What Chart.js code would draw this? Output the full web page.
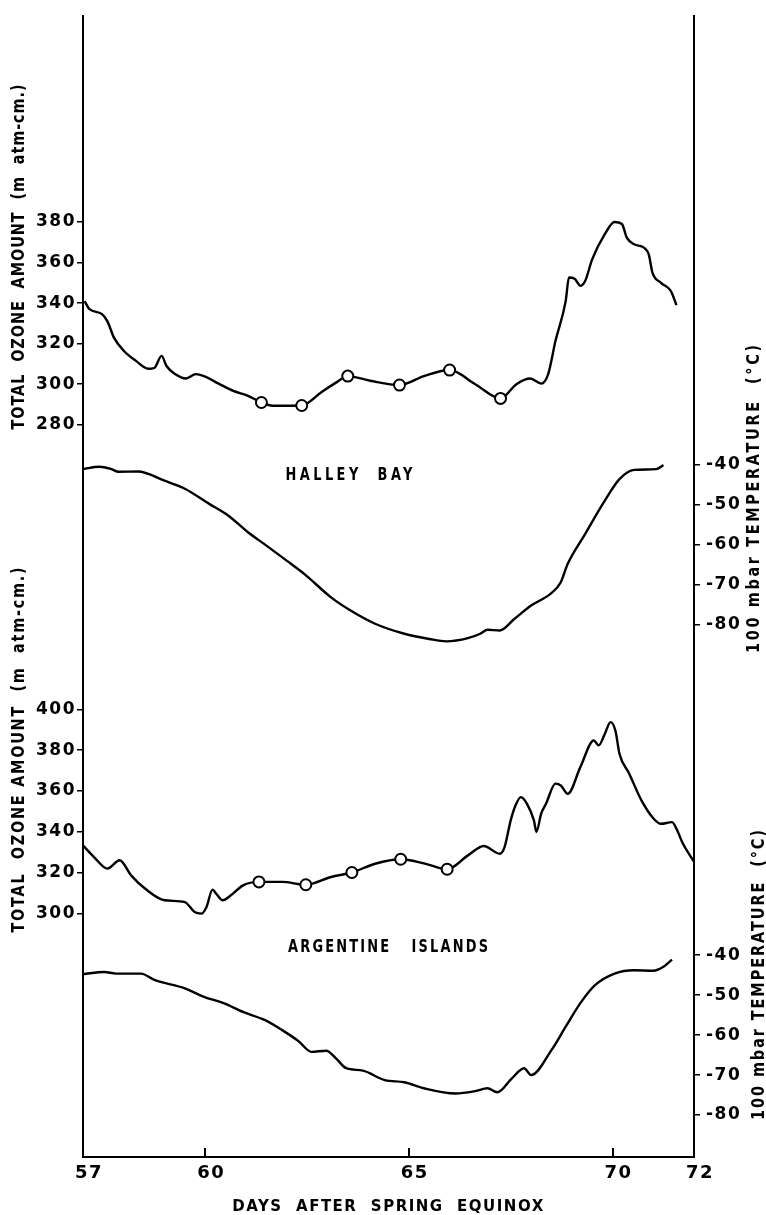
<!DOCTYPE html>
<html>
<head>
<meta charset="utf-8">
<script src="https://cdn.jsdelivr.net/npm/chart.js@4/dist/chart.umd.min.js"></script>
<style>
html,body{margin:0;padding:0;background:#fff;}
#wrap{width:766px;height:1215px;position:relative;}
</style>
</head>
<body>
<div id="wrap"><canvas id="c" width="766" height="1215"></canvas></div>
<script>
// ---- tick labels ----
const dayTicks = [57, 60, 65, 70, 72];
const innerDayTicks = [60, 65, 70];
const halleyOzoneTicks = [280, 300, 320, 340, 360, 380];
const argentineOzoneTicks = [300, 320, 340, 360, 380, 400];
const temperatureTicks = [-40, -50, -60, -70, -80];

// ---- Halley Bay total ozone ----
const halleyOzoneDays = [57.04,57.16,57.46,57.6,57.76,58.0,58.3,58.6,58.75,58.93,59.05,59.26,59.53,59.77,59.97,60.33,60.69,61.05,61.38,61.65,62.37,62.85,63.21,63.5,64.05,64.77,65.37,66.0,66.63,67.25,67.64,67.98,68.25,68.42,68.6,68.85,68.93,69.07,69.21,69.33,69.5,69.81,70.05,70.23,70.35,70.53,70.77,70.89,70.98,71.19,71.43,71.57];
const halleyOzone = [341,337,334.7,331,323,316.5,311.5,307.6,308,314,309,305,302.8,305,304,300.3,296.7,294.3,291,289.4,289.5,296,300.8,304,301.7,299.6,304,307,300,293,300,302.8,300.3,305,321.4,341,352.6,352,348.5,351,361.6,374,380,379,372.3,369,367.4,364,355,350,346,339];
const halleyCircleDays = [61.38,62.37,63.5,64.77,66.0,67.25];
const halleyCircleOzone = [291,289.5,304,299.6,307,293];

// ---- Halley Bay 100 mbar temperature ----
const halleyTempDays = [57.0,57.4,57.7,57.87,58.35,59.0,59.5,60.1,60.57,61.05,61.47,62.0,62.43,63.09,63.57,64.17,64.89,65.5,65.92,66.45,66.75,66.93,67.23,67.59,68.0,68.49,68.73,68.9,69.33,69.81,70.17,70.53,71.07,71.25];
const halleyTemp = [-41.1,-40.5,-41.1,-41.75,-41.7,-44,-46,-49.8,-52.75,-56.9,-60,-64,-67.3,-73.2,-76.5,-79.8,-82.3,-83.6,-84.2,-83.4,-82.3,-81.3,-81.5,-78.6,-75.25,-72.2,-69.4,-64.8,-57.3,-49,-43.6,-41.3,-41.1,-40.1];

// ---- Argentine Islands total ozone ----
const argOzoneDays = [57.0,57.27,57.6,57.9,58.18,58.53,59.0,59.5,59.74,59.9,60.03,60.18,60.27,60.43,60.63,60.93,61.32,61.89,62.47,63.09,63.6,64.17,64.8,65.37,65.94,66.45,66.84,67.23,67.35,67.5,67.62,67.75,67.9,68.07,68.13,68.25,68.37,68.6,68.73,68.9,69.21,69.54,69.66,69.81,69.95,70.07,70.17,70.41,70.71,71.01,71.19,71.46,71.55,71.73,71.99];
const argOzone = [333.3,327.6,321.9,326,318.6,312,306.4,305.5,300.6,299.8,303,311.6,309.6,306.4,308.8,313.7,315.4,315.4,314,317.8,320,324.3,326.5,324.5,321.6,328.4,333,329.2,332.5,345.6,353,357,353.7,345.6,339.9,349,353.9,363.6,362.7,358.6,371.7,384.8,382.4,388,393.8,389.7,378.3,368.5,355.4,346.4,343.9,344.7,342.3,334.1,325.6];
const argCircleDays = [61.32,62.47,63.6,64.8,65.94];
const argCircleOzone = [315.4,314,320,326.5,321.6];

// ---- Argentine Islands 100 mbar temperature ----
const argTempDays = [57.0,57.52,57.81,58.42,58.77,59.5,59.97,60.45,60.93,61.47,61.89,62.29,62.61,62.97,63.21,63.45,63.87,64.41,64.89,65.37,66.15,66.63,66.93,67.17,67.53,67.83,68.0,68.5,68.85,69.21,69.57,70.05,70.53,71.0,71.25,71.46];
const argTemp = [-44.75,-44.2,-44.6,-44.6,-46.25,-48.3,-50.4,-52,-54.2,-56.25,-58.75,-61.5,-64.2,-63.9,-65.8,-68.2,-68.9,-71.25,-71.8,-73.3,-74.6,-74,-73.3,-74.3,-70.8,-68.3,-70,-63.75,-57.9,-52,-47.5,-44.6,-43.75,-43.9,-42.9,-41.1];

// ---- texts ----
const xTitle = 'DAYS  AFTER  SPRING  EQUINOX';
const ozoneTitle = 'TOTAL  OZONE  AMOUNT  (m  atm-cm.)';
const ozoneTitle2 = 'TOTAL  OZONE AMOUNT  (m  atm-cm.)';
const tempTitle = '100 mbar TEMPERATURE  (°C)';
const panelNames = ['HALLEY  BAY', 'ARGENTINE   ISLANDS'];

const pts = (xs, ys) => xs.map((x, i) => ({x: x, y: ys[i]}));
const BLACK = '#000';
const tickFont = {family: "'DejaVu Sans', sans-serif", size: 17, weight: 'bold'};

function fitText(ctx, text, cx, cy, width, font, rot, sx) {
  ctx.save();
  ctx.font = font;
  ctx.letterSpacing = '0px';
  ctx.translate(cx, cy);
  ctx.rotate(rot);
  ctx.scale(sx, 1);
  const w0 = ctx.measureText(text).width;
  const n = Array.from(text).length;
  const target = width / sx;
  const ls = (target - w0) / (n - 1);
  ctx.letterSpacing = ls + 'px';
  ctx.textAlign = 'left';
  ctx.textBaseline = 'middle';
  ctx.fillStyle = BLACK;
  ctx.fillText(text, -target / 2, 0);
  ctx.restore();
}

const decor = {
  id: 'decor',
  beforeDraw(chart) {
    chart.ctx.letterSpacing = '1.5px';
  },
  afterDraw(chart) {
    const ctx = chart.ctx;
    const xs = chart.scales.x;
    const bottom = chart.chartArea.bottom;
    ctx.save();
    ctx.letterSpacing = '0px';
    ctx.strokeStyle = BLACK;
    ctx.lineWidth = 2;
    innerDayTicks.forEach(v => {
      const px = Math.round(xs.getPixelForValue(v));
      ctx.beginPath();
      ctx.moveTo(px, bottom);
      ctx.lineTo(px, bottom - 9);
      ctx.stroke();
    });
    ctx.restore();
    const f = "bold 17px 'DejaVu Sans', sans-serif";
    fitText(ctx, ozoneTitle, 20, 257, 345, f, -Math.PI / 2, 0.85);
    fitText(ctx, ozoneTitle2, 20, 750, 365, f, -Math.PI / 2, 0.85);
    fitText(ctx, tempTitle, 755, 499, 308, f, -Math.PI / 2, 0.85);
    fitText(ctx, tempTitle, 760, 975, 290, f, -Math.PI / 2, 0.85);
    const fl = "bold 18px 'DejaVu Sans', sans-serif";
    fitText(ctx, panelNames[0], 349, 475, 127, fl, 0, 0.72);
    fitText(ctx, panelNames[1], 388, 947, 200, fl, 0, 0.72);
  }
};

// stacked axes: each panel's axis owns part of the chart height
function yAxis(pos, stack, stackWeight, min, max, ticks, width, pad) {
  return {
    type: 'linear', position: pos, stack: stack, stackWeight: stackWeight, min: min, max: max,
    afterBuildTicks: s => { s.ticks = ticks.map(v => ({value: v})); },
    afterFit: s => { s.width = width; },
    grid: {drawOnChartArea: false, color: BLACK, lineWidth: 1.5, tickLength: 6},
    border: {display: true, color: BLACK, width: 2},
    ticks: {color: BLACK, font: tickFont, padding: pad, autoSkip: false, callback: v => String(v)}
  };
}

const lineDs = (data, axis) => ({
  data: data, yAxisID: axis, borderColor: BLACK, borderWidth: 2.4,
  pointRadius: 0, fill: false, cubicInterpolationMode: 'monotone', order: 1
});
const circleDs = (data, axis) => ({
  data: data, yAxisID: axis, showLine: false, pointRadius: 5.5,
  pointBackgroundColor: '#fff', pointBorderColor: BLACK, pointBorderWidth: 2, order: 0
});

new Chart(document.getElementById('c'), {
  type: 'line',
  data: {
    datasets: [
      circleDs(pts(halleyCircleDays, halleyCircleOzone), 'yH'),
      circleDs(pts(argCircleDays, argCircleOzone), 'yA'),
      lineDs(pts(halleyOzoneDays, halleyOzone), 'yH'),
      lineDs(pts(halleyTempDays, halleyTemp), 'tH'),
      lineDs(pts(argOzoneDays, argOzone), 'yA'),
      lineDs(pts(argTempDays, argTemp), 'tA')
    ]
  },
  options: {
    responsive: false,
    animation: false,
    devicePixelRatio: 1,
    layout: {padding: {top: 15, left: 0, right: 0, bottom: 0}},
    plugins: {legend: {display: false}, tooltip: {enabled: false}},
    scales: {
      x: {
        type: 'linear', position: 'bottom', min: 57, max: 72,
        afterBuildTicks: s => { s.ticks = dayTicks.map(v => ({value: v})); },
        afterFit: s => { s.height = 58; },
        grid: {drawOnChartArea: false, drawTicks: false},
        border: {display: true, color: BLACK, width: 2},
        ticks: {color: BLACK, font: {family: "'DejaVu Sans', sans-serif", size: 18, weight: 'bold'},
                padding: 6, labelOffset: 6, autoSkip: false, maxRotation: 0, callback: v => String(v)},
        title: {display: true, text: xTitle, color: BLACK,
                font: {family: "'DejaVu Sans', sans-serif", size: 15, weight: 'bold', lineHeight: 1.0},
                padding: {top: 0, bottom: 0}}
      },
      yH: Object.assign(yAxis('left', 'L', 645, 163.74, 481.5, halleyOzoneTicks, 83, 1), {weight: 1}),
      yA: Object.assign(yAxis('left', 'L', 497, 180.4, 424.02, argentineOzoneTicks, 83, 1), {weight: 0}),
      tH: Object.assign(yAxis('right', 'R', 685, -99, 72.25, temperatureTicks, 72, 6), {weight: 0}),
      tA: Object.assign(yAxis('right', 'R', 457, -90.5, 23.75, temperatureTicks, 72, 6), {weight: 1})
    }
  },
  plugins: [decor]
});
</script>
</body>
</html>
